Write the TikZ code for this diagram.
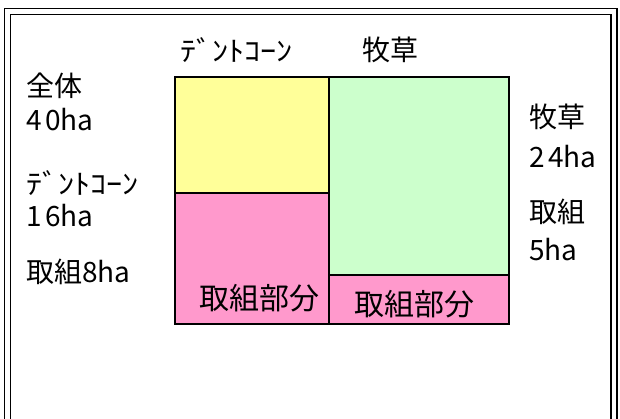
\documentclass[tikz,border=0pt]{standalone}
\usepackage{fontspec}
\setmainfont{Noto Sans CJK JP}
\newcommand{\wdig}[1]{{\addfontfeature{LetterSpace=12}#1}}
\begin{document}
\begin{tikzpicture}[x=1pt,y=-1pt,
  area/.style={draw=black,line width=1.4pt},
  lbl/.style={inner sep=0pt,anchor=west,font=\fontsize{28}{28}\selectfont},
  kana/.style={inner sep=0pt,anchor=west,font=\fontsize{28}{28}\selectfont,xscale=1.15},
  frameline/.style={line width=1.4pt}]
\useasboundingbox (0,0) rectangle (620,419);
% double frame, open at the bottom
\draw[frameline] (4.5,425) -- (4.5,8.5) -- (617,8.5) -- (617,425);
\draw[frameline] (10.5,425) -- (10.5,14.5) -- (611,14.5) -- (611,425);
% areas
\filldraw[area,fill={rgb,255:red,255;green,255;blue,153}] (175,77) rectangle (329,193);
\filldraw[area,fill={rgb,255:red,255;green,153;blue,204}] (175,193) rectangle (329,324);
\filldraw[area,fill={rgb,255:red,204;green,255;blue,204}] (329,77) rectangle (509,275);
\filldraw[area,fill={rgb,255:red,255;green,153;blue,204}] (329,275) rectangle (509,324);
\node[inner sep=0pt] (a1) at (259,298) {\fontsize{30}{30}\selectfont 取組部分};
\node[inner sep=0pt] (a2) at (414,304) {\fontsize{30}{30}\selectfont 取組部分};
% column headers
\node[kana] (h1) at (180,50) {ﾃﾞﾝﾄｺｰﾝ};
\node[lbl] (h2) at (362,50) {牧草};
% left labels
\node[lbl] (l1) at (26,86) {全体};
\node[lbl] (l2) at (26,120) {\wdig{40}ha};
\node[kana] (l3) at (26,183) {ﾃﾞﾝﾄｺｰﾝ};
\node[lbl] (l4) at (26,216) {\wdig{16}ha};
\node[lbl] (l5) at (26,272) {取組\wdig{8}ha};
% right labels
\node[lbl] (r1) at (529,117) {牧草};
\node[lbl] (r2) at (529,157) {\wdig{24}ha};
\node[lbl] (r3) at (529,212) {取組};
\node[lbl] (r4) at (529,250) {\wdig{5}ha};
\end{tikzpicture}
\end{document}
